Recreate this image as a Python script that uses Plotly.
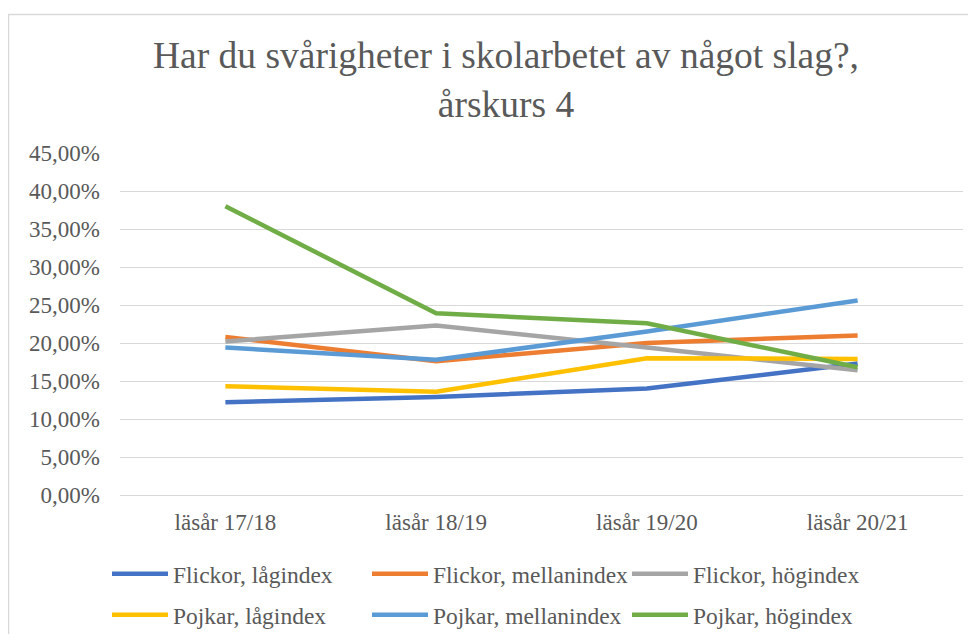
import plotly.graph_objects as go

categories = ["läsår 17/18", "läsår 18/19", "läsår 19/20", "läsår 20/21"]
series_names = [
    "Flickor, lågindex", "Flickor, mellanindex", "Flickor, högindex",
    "Pojkar, lågindex", "Pojkar, mellanindex", "Pojkar, högindex",
]
flickor_lag = [12.2, 12.9, 14.0, 17.3]
flickor_mellan = [20.8, 17.6, 20.0, 21.0]
flickor_hog = [20.2, 22.3, 19.4, 16.4]
pojkar_lag = [14.3, 13.6, 18.0, 17.9]
pojkar_mellan = [19.4, 17.8, 21.5, 25.6]
pojkar_hog = [38.0, 23.9, 22.6, 16.8]
colors = ["#4472C4", "#ED7D31", "#A5A5A5", "#FFC000", "#5B9BD5", "#70AD47"]
y_ticks = [0, 5, 10, 15, 20, 25, 30, 35, 40, 45]

all_series = [flickor_lag, flickor_mellan, flickor_hog, pojkar_lag, pojkar_mellan, pojkar_hog]
legend_ids = ["legend", "legend", "legend", "legend2", "legend2", "legend2"]

FONT = "Liberation Serif, Times New Roman, serif"
TXT = "#595959"

fig = go.Figure()
for name, vals, col, lg in zip(series_names, all_series, colors, legend_ids):
    fig.add_trace(go.Scatter(
        x=categories, y=[v / 100 for v in vals], name=name, mode="lines",
        line=dict(color=col, width=4.5), legend=lg,
    ))

# page body has an 8px margin; figure is placed at (8, 8) in the window
OFF = 8
W, H = 976 - 2 * OFF, 642 - 2 * OFF
L, T = 120 - OFF, 153 - OFF
R = W - (963 - OFF)
B = H - (495 - OFF)
pw, ph = W - L - R, H - T - B

def px_x(x):  # window px -> paper
    return (x - OFF - L) / pw

def px_y(y):
    return (H - B - (y - OFF)) / ph

legend_common = dict(
    orientation="h", xanchor="left", yanchor="top",
    font=dict(size=23.5, color=TXT, family=FONT),
    entrywidth=189, entrywidthmode="pixels", itemwidth=56,
    bgcolor="rgba(0,0,0,0)",
)

fig.update_layout(
    width=W, height=H,
    margin=dict(l=L, r=R, t=T, b=B, autoexpand=False),
    paper_bgcolor="white", plot_bgcolor="white",
    separators=", ",
    font=dict(family=FONT, color=TXT, size=23),
    title=dict(
        text="Har du svårigheter i skolarbetet av något slag?,<br>årskurs 4",
        x=(506 - OFF) / W, xanchor="center", y=1 - (68 - OFF) / H, yanchor="top",
        font=dict(family=FONT, size=37.5, color=TXT),
    ),
    xaxis=dict(
        type="category", range=[-0.5, 3.5], showgrid=False, showline=False,
        zeroline=False, ticks="", tickfont=dict(size=23, color=TXT, family=FONT),
        ticklabelstandoff=11,
    ),
    yaxis=dict(
        range=[0, 0.45], tickvals=[t / 100 for t in y_ticks], tickformat=".2%",
        showgrid=True, gridcolor="#D9D9D9", gridwidth=1.3,
        zeroline=True, zerolinecolor="#D9D9D9", zerolinewidth=1.3,
        showline=False, ticks="", tickfont=dict(size=23, color=TXT, family=FONT),
        ticklabelstandoff=19,
    ),
    legend=dict(x=px_x(107), y=px_y(552), **legend_common),
    legend2=dict(x=px_x(107), y=px_y(593), **legend_common),
    showlegend=True,
    shapes=[dict(
        type="rect", xref="paper", yref="paper",
        x0=px_x(8.5), x1=px_x(1000), y0=px_y(700), y1=px_y(14.5),
        line=dict(color="#D9D9D9", width=1.5), fillcolor="rgba(0,0,0,0)", layer="below",
    )],
)

fig.write_html("out.html")
